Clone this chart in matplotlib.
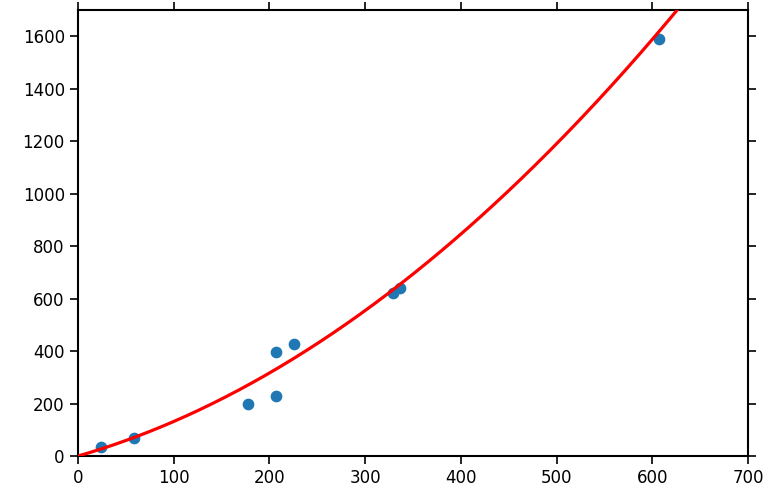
import numpy as np
import matplotlib
matplotlib.use("Agg")
import matplotlib.pyplot as plt

# observed data points
x_data = [24, 58, 178, 207, 207, 226, 329, 336, 607]
y_data = [34, 69, 198, 229, 396, 427, 621, 640, 1589]

# fitted quadratic model y = c2*x^2 + c1*x + c0
fit_coefs = [0.00266, 1.05, 0.0]

x_ticks = [0, 100, 200, 300, 400, 500, 600, 700]
y_ticks = [0, 200, 400, 600, 800, 1000, 1200, 1400, 1600]

fig = plt.figure(figsize=(7.76, 4.93), dpi=100)
ax = fig.add_axes([0.1005, 0.075, 0.8635, 0.905])

xs = np.linspace(0, 700, 400)
ax.plot(xs, np.polyval(fit_coefs, xs), color="red", lw=2.3, zorder=3)
ax.scatter(x_data, y_data, s=55, color="#1f77b4", zorder=2)

ax.set_xlim(0, 700)
ax.set_ylim(0, 1700)
ax.set_xticks(x_ticks)
ax.set_yticks(y_ticks)
ax.tick_params(direction="out", length=6, width=1.2, labelsize=12,
               top=True, right=True, labeltop=False, labelright=False)
for sp in ax.spines.values():
    sp.set_linewidth(1.5)

fig.savefig("out.png", dpi=100)
